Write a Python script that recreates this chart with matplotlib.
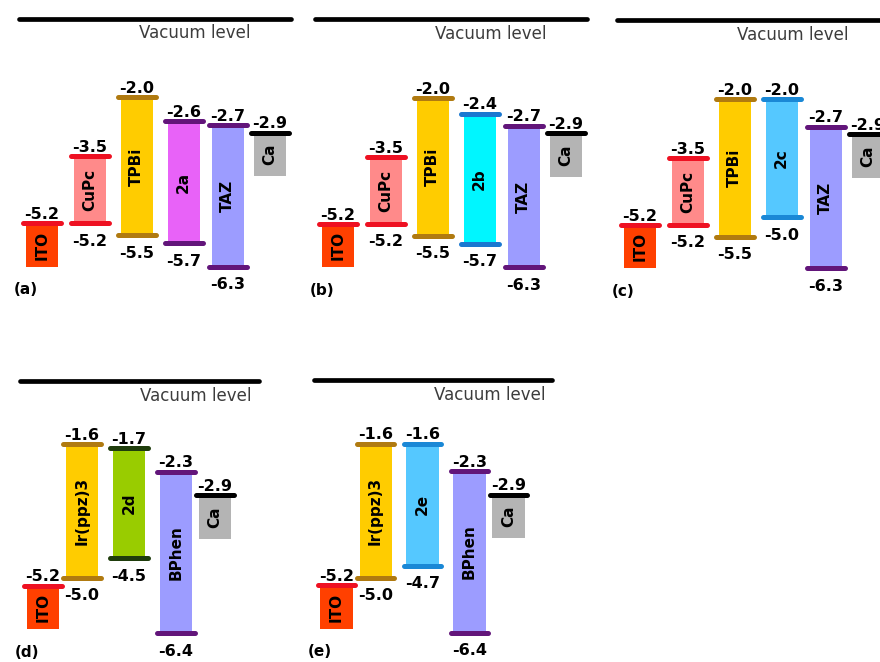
import matplotlib
matplotlib.use('Agg')
import matplotlib.pyplot as plt

# energy levels in eV: upper line and lower line of each layer
# (electrodes have a single level, lower is None)
names_a = ['ITO', 'CuPc', 'TPBi', '2a', 'TAZ', 'Ca']
top_a = [-5.2, -3.5, -2.0, -2.6, -2.7, -2.9]
bot_a = [None, -5.2, -5.5, -5.7, -6.3, None]

names_b = ['ITO', 'CuPc', 'TPBi', '2b', 'TAZ', 'Ca']
top_b = [-5.2, -3.5, -2.0, -2.4, -2.7, -2.9]
bot_b = [None, -5.2, -5.5, -5.7, -6.3, None]

names_c = ['ITO', 'CuPc', 'TPBi', '2c', 'TAZ', 'Ca']
top_c = [-5.2, -3.5, -2.0, -2.0, -2.7, -2.9]
bot_c = [None, -5.2, -5.5, -5.0, -6.3, None]

names_d = ['ITO', 'Ir(ppz)3', '2d', 'BPhen', 'Ca']
top_d = [-5.2, -1.6, -1.7, -2.3, -2.9]
bot_d = [None, -5.0, -4.5, -6.4, None]

names_e = ['ITO', 'Ir(ppz)3', '2e', 'BPhen', 'Ca']
top_e = [-5.2, -1.6, -1.6, -2.3, -2.9]
bot_e = [None, -5.0, -4.7, -6.4, None]

# box colour, level line colour
style = {
    'ITO': ('#ff4000', '#ee1122'),
    'CuPc': ('#ff8a8a', '#ee1122'),
    'TPBi': ('#ffcc00', '#b07a10'),
    'Ir(ppz)3': ('#ffcc00', '#b07a10'),
    '2a': ('#e862f8', '#62157a'),
    '2b': ('#00f6ff', '#1a78d0'),
    '2c': ('#55c8ff', '#1a88d6'),
    '2e': ('#55c8ff', '#1a88d6'),
    '2d': ('#99cc00', '#1f3d0c'),
    'TAZ': ('#9c9cff', '#62157a'),
    'BPhen': ('#9c9cff', '#62157a'),
    'Ca': ('#b4b4b4', '#000000'),
}

W, H = 880, 662
PX_X = 46.0    # pixels per column unit
PX_E = 39.4    # pixels per eV
XLIM = (-0.9, 6.3)
ELIM = (-7.3, 0.7)
ELECTRODE_DEPTH = 1.1
LINE_HW = 0.41
BOX_W = 0.70
LW = 3.6
FS = 11
FS_VAL = 11.5

fig = plt.figure(figsize=(W / 100, H / 100), dpi=100)


def panel(x0, y0, xs, names, top, bot, vac_len, tag):
    left = x0 + XLIM[0] * PX_X
    right = x0 + XLIM[1] * PX_X
    ytop = y0 - ELIM[1] * PX_E
    ybot = y0 - ELIM[0] * PX_E
    ax = fig.add_axes([left / W, 1 - ybot / H, (right - left) / W, (ybot - ytop) / H])
    ax.set_xlim(XLIM)
    ax.set_ylim(ELIM)
    ax.axis('off')

    # vacuum level
    ax.plot([-0.49, -0.59 + vac_len], [0, 0], color='black', lw=3.4,
            solid_capstyle='round')
    ax.text(2.11, -0.37, 'Vacuum level', ha='left', va='center',
            fontsize=12, color='#3c3c3c')

    for x, name, t, b in zip(xs, names, top, bot):
        box_c, line_c = style[name]
        lower = b if b is not None else t - ELECTRODE_DEPTH
        ax.bar(x, t - lower, bottom=lower, width=BOX_W, color=box_c, zorder=1)
        ax.text(x, (t + lower) / 2, name, rotation=90, ha='center', va='center',
                fontsize=FS, fontweight='bold', zorder=4)
        ax.plot([x - LINE_HW, x + LINE_HW], [t, t], color=line_c, lw=LW,
                solid_capstyle='round', zorder=3)
        ax.annotate(f'{t:.1f}', (x, t), xytext=(0, 3.2), textcoords='offset points',
                    ha='center', va='baseline', fontsize=FS_VAL, fontweight='bold', zorder=5)
        if b is not None:
            ax.plot([x - LINE_HW, x + LINE_HW], [b, b], color=line_c, lw=LW,
                    solid_capstyle='round', zorder=3)
            ax.annotate(f'{b:.1f}', (x, b), xytext=(0, -7.5), textcoords='offset points',
                        ha='center', va='top', fontsize=FS_VAL, fontweight='bold', zorder=5)

    ax.text(-0.62, -6.88, tag, ha='left', va='center', fontsize=FS, fontweight='bold')
    return ax


cols_top = [0, 1.04, 2.06, 3.08, 4.04, 4.95]
cols_bot = [0, 0.85, 1.87, 2.89, 3.74]

panel(42, 18.6, cols_top, names_a, top_a, bot_a, 6.0, '(a)')
panel(338, 19.2, cols_top, names_b, top_b, bot_b, 6.0, '(b)')
panel(640, 20.2, cols_top, names_c, top_c, bot_c, 6.0, '(c)')
panel(43, 381, cols_bot, names_d, top_d, bot_d, 5.28, '(d)')
panel(336.5, 380.5, cols_bot, names_e, top_e, bot_e, 5.28, '(e)')

fig.savefig('out.png', dpi=100)
